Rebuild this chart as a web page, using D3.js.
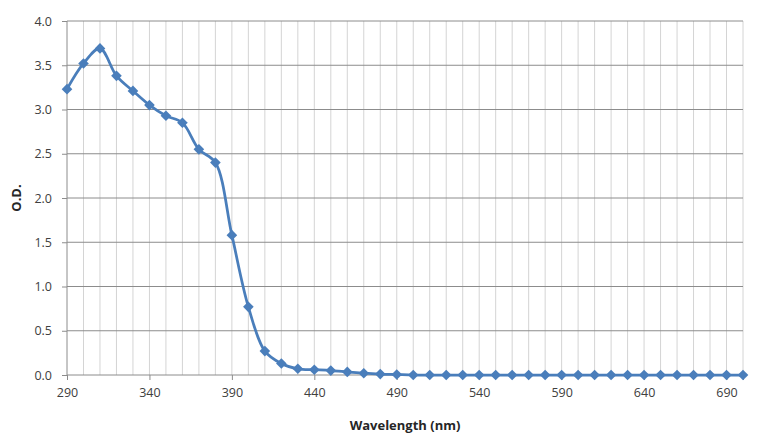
<!DOCTYPE html>
<html>
<head>
<meta charset="utf-8">
<script src="https://cdn.jsdelivr.net/npm/d3@7"></script>
<style>
  body { margin: 0; background: #fff; }
  text { font-family: "Open Sans", "Noto Sans", sans-serif; }
</style>
</head>
<body>
<svg id="chart"></svg>
<script>
// Data
const wavelengths = d3.range(290, 701, 10)
const odValues = [
  3.23, 3.52, 3.69, 3.38, 3.21, 3.05, 2.93, 2.85, 2.55, 2.40,
  1.58, 0.77, 0.27, 0.13, 0.07, 0.06, 0.05, 0.035, 0.02, 0.01,
  0.005, 0, 0, 0, 0, 0, 0, 0, 0, 0,
  0, 0, 0, 0, 0, 0, 0, 0, 0, 0,
  0, 0
]
const xTickLabels = [290, 340, 390, 440, 490, 540, 590, 640, 690]
const yTicks = [0, 0.5, 1.0, 1.5, 2.0, 2.5, 3.0, 3.5, 4.0]

const W = 758, H = 440
const margin = { top: 21, right: 15, bottom: 65, left: 67 }
const width = W - margin.left - margin.right
const height = H - margin.top - margin.bottom

const dataset = wavelengths.map((w, i) => ({ w, v: odValues[i] }))

const svg = d3.select('#chart')
  .attr('width', W)
  .attr('height', H)

const g = svg.append('g')
  .attr('transform', `translate(${margin.left}, ${margin.top})`)

const xScale = d3.scaleLinear()
  .domain([290, 700])
  .range([0, width])

const yScale = d3.scaleLinear()
  .domain([0, 4])
  .range([height, 0])

// vertical gridlines (one per category)
g.append('g')
  .selectAll('line')
  .data(wavelengths.slice(1))
  .enter()
  .append('line')
  .attr('x1', d => xScale(d)).attr('x2', d => xScale(d))
  .attr('y1', 0).attr('y2', height)
  .attr('stroke', '#d4d4d4')
  .attr('stroke-width', 1)

// horizontal gridlines
g.append('g')
  .selectAll('line')
  .data(yTicks.slice(1))
  .enter()
  .append('line')
  .attr('x1', 0).attr('x2', width)
  .attr('y1', d => yScale(d)).attr('y2', d => yScale(d))
  .attr('stroke', '#8c8c8c')
  .attr('stroke-width', 1)

// y axis
const yAxis = d3.axisLeft(yScale)
  .tickValues(yTicks)
  .tickFormat(d3.format('.1f'))
  .tickSize(5)
  .tickPadding(10)

const yg = g.append('g').call(yAxis)
yg.select('.domain').attr('stroke', '#8c8c8c').attr('d', `M0,0V${height}`)
yg.selectAll('.tick line').attr('stroke', '#8c8c8c')
yg.selectAll('.tick text').attr('fill', '#404040').style('font-size', '12.5px')

// x axis
const xAxis = d3.axisBottom(xScale)
  .tickValues(xTickLabels.concat([700]))
  .tickFormat(d => d === 700 ? '' : d)
  .tickSize(5)
  .tickPadding(8)

const xg = g.append('g')
  .attr('transform', `translate(0, ${height})`)
  .call(xAxis)
xg.select('.domain').attr('stroke', '#8c8c8c').attr('d', `M0,0H${width}`)
xg.selectAll('.tick line').attr('stroke', '#8c8c8c')
xg.selectAll('.tick text').attr('fill', '#404040').style('font-size', '12.5px')

// line
const line = d3.line()
  .x(d => xScale(d.w))
  .y(d => yScale(d.v))
  .curve(d3.curveCatmullRom.alpha(0.5))

g.append('path')
  .datum(dataset)
  .attr('fill', 'none')
  .attr('stroke', '#4a7ebb')
  .attr('stroke-width', 2.75)
  .attr('stroke-linejoin', 'round')
  .attr('d', line)

// diamond markers
g.selectAll('.marker')
  .data(dataset)
  .enter()
  .append('path')
  .attr('class', 'marker')
  .attr('d', d3.symbol().type(d3.symbolDiamond2).size(72))
  .attr('transform', d => `translate(${xScale(d.w)}, ${yScale(d.v)})`)
  .attr('fill', '#4a7ebb')

// axis titles
svg.append('text')
  .attr('x', margin.left + width / 2)
  .attr('y', 430)
  .attr('text-anchor', 'middle')
  .style('font-size', '13px')
  .style('font-weight', 'bold')
  .attr('fill', '#262626')
  .text('Wavelength (nm)')

svg.append('text')
  .attr('transform', `translate(21, ${margin.top + height / 2}) rotate(-90)`)
  .attr('text-anchor', 'middle')
  .style('font-size', '13px')
  .style('font-weight', 'bold')
  .attr('fill', '#262626')
  .text('O.D.')
</script>
</body>
</html>
